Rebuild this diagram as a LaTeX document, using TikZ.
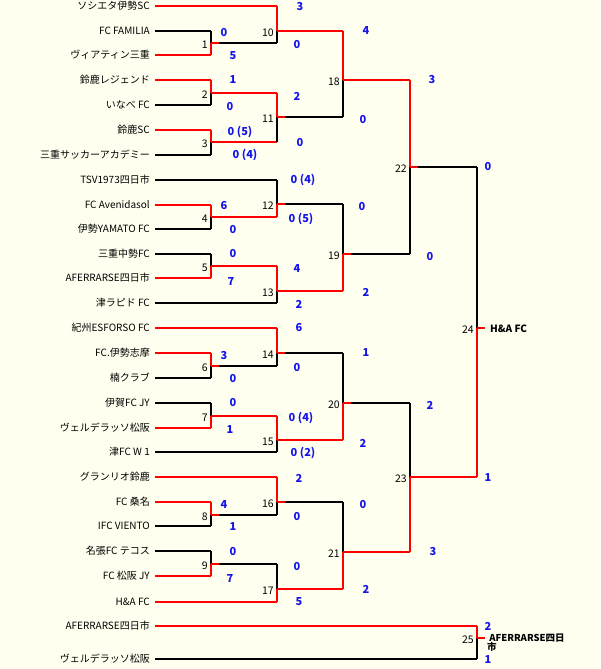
\documentclass[tikz,border=0pt]{standalone}
\usepackage{fontspec}
\setmainfont{Noto Sans CJK JP}
\definecolor{paper}{HTML}{FFFFF0}
\definecolor{score}{RGB}{20,20,235}
\definecolor{win}{RGB}{255,0,0}
\tikzset{
  wire/.style={line width=1.6pt},
  team/.style={anchor=east, inner sep=0pt, font=\fontsize{10}{10}\selectfont},
  num/.style={anchor=east, inner sep=0pt, font=\fontsize{10.5}{10}\selectfont},
  pts/.style={inner sep=0pt, text=score, font=\bfseries\fontsize{11}{10}\selectfont},
  champ/.style={anchor=west, inner sep=0pt, font=\bfseries\fontsize{10}{10}\selectfont}
}
% match: number, x, upper y, lower y, out y, upper colour, lower colour, end x, out colour
\newcommand\bout[9]{%
  \coordinate (u#1) at (#2,#3); \coordinate (l#1) at (#2,#4);
  \coordinate (j#1) at (#2,#5); \coordinate (s#1) at (#2+8,#5);
  \coordinate (e#1) at (#8,#5);
  \draw[wire,#6] (u#1) -- (j#1);
  \draw[wire,#7] (j#1) -- (l#1);
  \draw[wire,win] (j#1) -- (s#1);
  \draw[wire,#9] (s#1) -- (e#1);
  \node[num] (m#1) at (#2-3,#5+2) {#1};
}
\begin{document}
\begin{tikzpicture}[x=1pt,y=-1pt]
\fill[paper] (0,0) rectangle (600,669);
\useasboundingbox (0,0) rectangle (600,669);

% teams
\foreach \i/\y/\xe/\c/\name in {
  1/6/277/win/ソシエタ伊勢SC, 2/31/211/black/FC FAMILIA, 3/55/211/win/ヴィアティン三重,
  4/80/211/win/鈴鹿レジェンド, 5/105/211/black/いなべ FC, 6/130/211/win/鈴鹿SC,
  7/155/211/black/三重サッカーアカデミー, 8/180/277/black/TSV1973四日市,
  9/205/211/win/FC Avenidasol, 10/229/211/black/伊勢YAMATO FC,
  11/254/211/black/三重中勢FC, 12/278/211/win/AFERRARSE四日市, 13/303/277/black/津ラピド FC,
  14/328/277/win/紀州ESFORSO FC, 15/353/211/win/FC.伊勢志摩, 16/378/211/black/楠クラブ,
  17/403/211/black/伊賀FC JY, 18/428/211/win/ヴェルデラッソ松阪, 19/452/277/black/津FC W 1,
  20/477/277/win/グランリオ鈴鹿, 21/502/211/win/FC 桑名, 22/526/211/black/IFC VIENTO,
  23/551/211/black/名張FC テコス, 24/576/211/win/FC 松阪 JY, 25/602/277/win/H\&A FC,
  26/626/477/win/AFERRARSE四日市, 27/659/477/black/ヴェルデラッソ松阪}{
  \node[team] (t\i) at (150,\y) {\name};
  \coordinate (te\i) at (\xe,\y);
  \draw[wire,\c] (155,\y) -- (te\i);
}

% rounds
\bout{1}{211}{31}{55}{43}{black}{win}{277}{black}
\bout{2}{211}{80}{105}{93}{win}{black}{277}{win}
\bout{3}{211}{130}{155}{142}{win}{black}{277}{win}
\bout{4}{211}{205}{229}{217}{win}{black}{277}{win}
\bout{5}{211}{254}{278}{266}{black}{win}{277}{win}
\bout{6}{211}{353}{378}{366}{win}{black}{277}{black}
\bout{7}{211}{403}{428}{416}{black}{win}{277}{win}
\bout{8}{211}{502}{526}{515}{win}{black}{277}{black}
\bout{9}{211}{551}{576}{564}{black}{win}{277}{black}
\bout{10}{277}{6}{43}{31}{win}{black}{343}{win}
\bout{11}{277}{93}{142}{117}{win}{black}{343}{black}
\bout{12}{277}{180}{217}{204}{black}{win}{343}{black}
\bout{13}{277}{266}{303}{291}{win}{black}{343}{win}
\bout{14}{277}{328}{366}{353}{win}{black}{343}{black}
\bout{15}{277}{416}{452}{440}{win}{black}{343}{win}
\bout{16}{277}{477}{515}{502}{win}{black}{343}{black}
\bout{17}{277}{564}{602}{589}{black}{win}{343}{win}
\bout{18}{343}{31}{117}{80}{win}{black}{410}{win}
\bout{19}{343}{204}{291}{254}{black}{win}{410}{black}
\bout{20}{343}{353}{440}{403}{black}{win}{410}{black}
\bout{21}{343}{502}{589}{552}{black}{win}{410}{win}
\bout{22}{410}{80}{254}{167}{win}{black}{477}{black}
\bout{23}{410}{403}{552}{477}{black}{win}{477}{win}
\bout{24}{477}{167}{477}{328}{black}{win}{485}{win}
\bout{25}{477}{626}{659}{638}{win}{black}{485}{win}

% scores
\foreach \x/\y/\s in {
  300/7/3, 224/33/0, 297/45/0, 233/56/5, 366/31/4, 233/80/1, 432/80/3, 297/96/2,
  230/107/0, 363/120/0, 240/132/0 (5), 300/143/0, 245/155/0 (4), 488/167/0,
  303/180/0 (4), 362/207/0, 224/206/6, 301/219/0 (5), 233/230/0, 233/254/0,
  297/269/4, 430/257/0, 231/282/7, 366/292/2, 299/304/2, 299/328/6, 366/353/1,
  224/356/3, 297/368/0, 233/379/0, 233/403/0, 430/405/2, 301/418/0 (4), 230/430/1,
  363/443/2, 303/453/0 (2), 299/478/2, 488/478/1, 363/505/0, 224/505/4, 297/517/0,
  233/527/1, 233/552/0, 433/552/3, 297/567/0, 230/579/7, 366/589/2, 299/602/5,
  488/626/2, 488/659/1}{
  \node[pts] at (\x,\y) {\s};
}

% winners
\node[champ] (w24) at (490,329) {H\&A FC};
\node[champ, anchor=north west, align=left, font=\bfseries\fontsize{9.5}{9.5}\selectfont] (w25) at (487,633.5) {\ AFERRARSE四日\\市};
\end{tikzpicture}
\end{document}
